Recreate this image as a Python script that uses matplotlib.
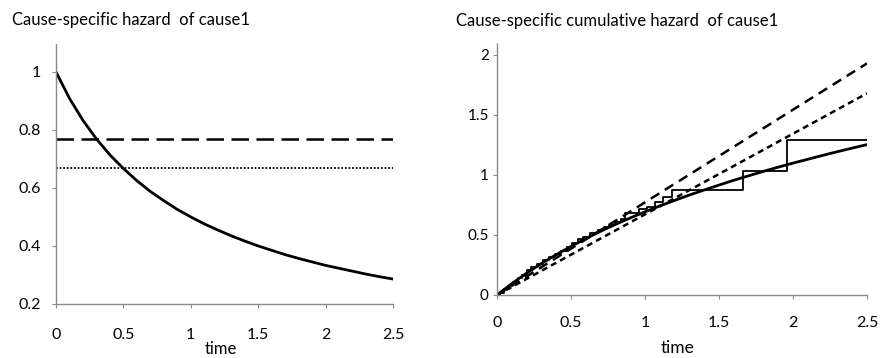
import matplotlib

matplotlib.use("Agg")

import matplotlib.pyplot as plt

# hazard curve (left)
haz_t = [0.0, 0.1, 0.2, 0.3, 0.4, 0.5, 0.6, 0.7, 0.8, 0.9, 1.0, 1.1, 1.2,
         1.3, 1.4, 1.5, 1.6, 1.7, 1.8, 1.9, 2.0, 2.1, 2.2, 2.3, 2.4, 2.5]
haz_true = [1.0, 0.909, 0.833, 0.769, 0.714, 0.667, 0.625, 0.588, 0.556,
            0.526, 0.5, 0.476, 0.455, 0.435, 0.417, 0.4, 0.385, 0.37, 0.357,
            0.345, 0.333, 0.323, 0.313, 0.303, 0.294, 0.286]
haz_dashed = 0.77
haz_dotted = 0.67

# cumulative hazard (right)
cum_true = [0.0, 0.095, 0.182, 0.262, 0.336, 0.405, 0.47, 0.531, 0.588,
            0.642, 0.693, 0.742, 0.788, 0.833, 0.875, 0.916, 0.956, 0.993,
            1.03, 1.065, 1.099, 1.131, 1.163, 1.194, 1.224, 1.253]
line_t = [0.0, 2.5]
cum_dashed = [0.0, 1.93]
cum_dotted = [0.0, 1.68]
na_times = [0.0, 0.02, 0.05, 0.08, 0.11, 0.14, 0.17, 0.2, 0.23, 0.27, 0.31,
            0.35, 0.39, 0.43, 0.47, 0.51, 0.55, 0.58, 0.63, 0.68, 0.72, 0.76,
            0.8, 0.84, 0.865, 0.959, 1.011, 1.068, 1.12, 1.185, 1.664, 1.957,
            2.5]
na_values = [0.0, 0.02, 0.05, 0.08, 0.11, 0.14, 0.17, 0.21, 0.235, 0.26,
             0.29, 0.32, 0.345, 0.37, 0.40, 0.43, 0.465, 0.48, 0.52, 0.545,
             0.565, 0.585, 0.61, 0.63, 0.68, 0.714, 0.736, 0.778, 0.82,
             0.875, 1.036, 1.29, 1.29]

xticks = [0, 0.5, 1, 1.5, 2, 2.5]
xtick_labels = ["0", "0.5", "1", "1.5", "2", "2.5"]

plt.rcParams["font.family"] = ["Lato", "DejaVu Sans"]


def style_axes(ax):
    for side in ["top", "right"]:
        ax.spines[side].set_visible(False)
    for side in ["left", "bottom"]:
        ax.spines[side].set_linestyle((0, (1, 1)))
        ax.spines[side].set_color("#888888")
        ax.spines[side].set_linewidth(1.0)
    ax.tick_params(axis="both", color="#888888", length=3, width=0.8)


fig = plt.figure(figsize=(8.82, 3.58), dpi=100)

ax1 = fig.add_axes([0.0635, 0.151, 0.382, 0.729])
ax1.plot(haz_t, haz_true, color="black", linewidth=2.0)
ax1.axhline(haz_dashed, color="black", linewidth=1.8, linestyle=(0, (7, 3)))
ax1.axhline(haz_dotted, color="black", linewidth=1.3, linestyle=(0, (1, 1)))
ax1.set_xlim(0, 2.5)
ax1.set_ylim(0.2, 1.1)
ax1.set_xticks(xticks, xtick_labels)
ax1.set_yticks([0.2, 0.4, 0.6, 0.8, 1.0], ["0.2", "0.4", "0.6", "0.8", "1"])
style_axes(ax1)
ax1.tick_params(axis="x", labelsize=11.5, pad=14)
ax1.tick_params(axis="y", labelsize=11.5, pad=8)
ax1.set_xlabel("time", fontsize=12, va="baseline")
ax1.xaxis.set_label_coords(0.49, -0.192)
fig.text(0.0136, 0.930, "Cause-specific hazard  of cause1", fontsize=12,
         va="baseline", ha="left")

ax2 = fig.add_axes([0.5635, 0.176, 0.4195, 0.704])
ax2.plot(line_t, cum_dashed, color="black", linewidth=1.8,
         linestyle=(0, (4, 2.6)))
ax2.plot(line_t, cum_dotted, color="black", linewidth=1.8,
         linestyle=(0, (2.4, 1.7)))
ax2.step(na_times, na_values, where="post", color="black", linewidth=1.3)
ax2.plot(haz_t, cum_true, color="black", linewidth=2.0)
ax2.set_xlim(0, 2.5)
ax2.set_ylim(0, 2.1)
ax2.set_xticks(xticks, xtick_labels)
ax2.set_yticks([0, 0.5, 1, 1.5, 2], ["0", "0.5", "1", "1.5", "2"])
style_axes(ax2)
ax2.tick_params(axis="x", labelsize=11.5, pad=12)
ax2.tick_params(axis="y", labelsize=11, pad=3)
ax2.set_xlabel("time", fontsize=12.5, va="baseline")
ax2.xaxis.set_label_coords(0.487, -0.230)
fig.text(0.517, 0.927, "Cause-specific cumulative hazard  of cause1",
         fontsize=12, va="baseline", ha="left")

fig.savefig("out.png", dpi=100)
